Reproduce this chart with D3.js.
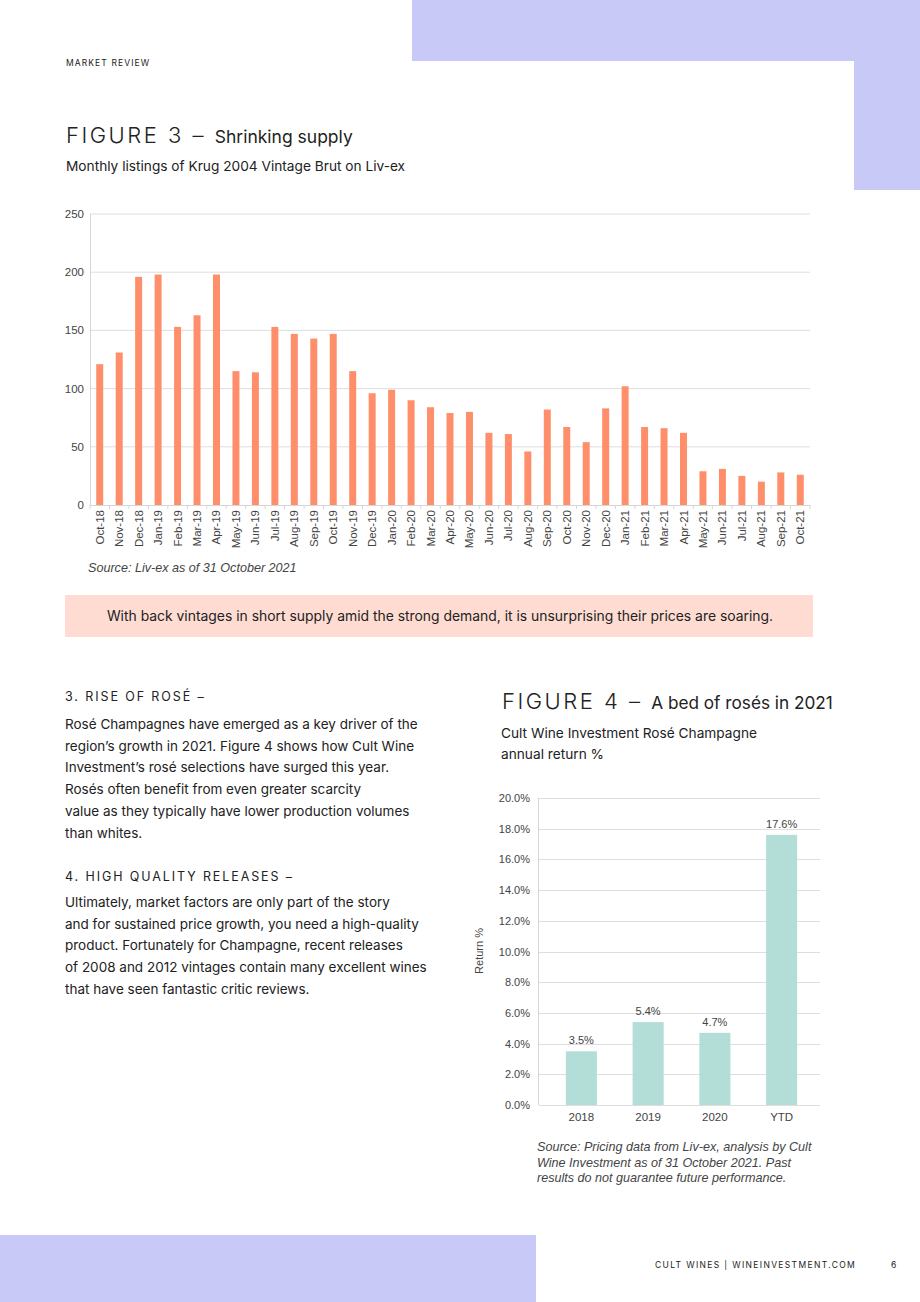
<!DOCTYPE html>
<html><head><meta charset="utf-8">
<script src="https://cdn.jsdelivr.net/npm/d3@7"></script>
<style>
html,body{margin:0;padding:0;background:#fff;}
svg{display:block;}
.body{font-family:Inter, "Noto Sans", sans-serif;fill:#222;}
.chart{font-family:"Liberation Sans", Arial, sans-serif;}
</style></head>
<body><svg id="page" width="920" height="1302"></svg>
<script>
// ---- Figure 3 data ----
const months = ["Oct-18","Nov-18","Dec-18","Jan-19","Feb-19","Mar-19","Apr-19","May-19","Jun-19","Jul-19","Aug-19","Sep-19","Oct-19","Nov-19","Dec-19","Jan-20","Feb-20","Mar-20","Apr-20","May-20","Jun-20","Jul-20","Aug-20","Sep-20","Oct-20","Nov-20","Dec-20","Jan-21","Feb-21","Mar-21","Apr-21","May-21","Jun-21","Jul-21","Aug-21","Sep-21","Oct-21"];
const listings = [121,131,196,198,153,163,198,115,114,153,147,143,147,115,96,99,90,84,79,80,62,61,46,82,67,54,83,102,67,66,62,29,31,25,20,28,26];
const listingTicks = [0,50,100,150,200,250];

// ---- Figure 4 data ----
const years = ["2018","2019","2020","YTD"];
const returns = [3.5,5.4,4.7,17.6];
const returnTicks = [0,2,4,6,8,10,12,14,16,18,20];

// ---- Text ----
const para3 = ["Rosé Champagnes have emerged as a key driver of the","region’s growth in 2021. Figure 4 shows how Cult Wine","Investment’s rosé selections have surged this year.","Rosés often benefit from even greater scarcity","value as they typically have lower production volumes","than whites."];
const para4 = ["Ultimately, market factors are only part of the story","and for sustained price growth, you need a high-quality","product. Fortunately for Champagne, recent releases","of 2008 and 2012 vintages contain many excellent wines","that have seen fantastic critic reviews."];
const source4 = ["Source: Pricing data from Liv-ex, analysis by Cult","Wine Investment as of 31 October 2021. Past","results do not guarantee future performance."];

const svg = d3.select("#page");
const lav = "#c9c9f8";
// decorative blocks
svg.append("rect").attr("x",412).attr("y",0).attr("width",508).attr("height",61).attr("fill",lav);
svg.append("rect").attr("x",854).attr("y",0).attr("width",66).attr("height",190).attr("fill",lav);
svg.append("rect").attr("x",0).attr("y",1235).attr("width",536).attr("height",67).attr("fill",lav);

svg.append("text").attr("class","body").attr("x",66).attr("y",66).attr("font-size",8.5).attr("letter-spacing",1.1).attr("fill","#333").text("MARKET REVIEW");

// Figure 3 title
const t3 = svg.append("text").attr("class","body").attr("x",66).attr("y",143).attr("fill","#222");
t3.append("tspan").attr("font-size",22).attr("font-weight",300).attr("letter-spacing",2.5).text("FIGURE 3 – ");
t3.append("tspan").attr("font-size",17.5).attr("font-weight",400).text("Shrinking supply");
svg.append("text").attr("class","body").attr("x",66).attr("y",171).attr("font-size",13.7).text("Monthly listings of Krug 2004 Vintage Brut on Liv-ex");

// Figure 3 chart
const x3 = d3.scaleBand().domain(months).range([90,810]);
const y3 = d3.scaleLinear().domain([0,250]).range([505,214]);
const g3 = svg.append("g").attr("class","chart");
g3.selectAll("line.grid").data(listingTicks.filter(d=>d>0)).join("line")
  .attr("x1",90).attr("x2",810).attr("y1",d=>y3(d)).attr("y2",d=>y3(d)).attr("stroke","#dedede").attr("stroke-width",1);
g3.append("line").attr("x1",90.5).attr("x2",90.5).attr("y1",214).attr("y2",505).attr("stroke","#d6d6d6");
g3.append("line").attr("x1",90).attr("x2",810).attr("y1",505.5).attr("y2",505.5).attr("stroke","#d6d6d6");
g3.selectAll("line.tk").data(months.concat(["end"])).join("line")
  .attr("x1",(d,i)=>90+x3.step()*i).attr("x2",(d,i)=>90+x3.step()*i).attr("y1",505).attr("y2",509).attr("stroke","#d6d6d6");
const bw3 = 7;
g3.selectAll("rect.bar").data(listings).join("rect")
  .attr("x",(d,i)=>x3(months[i])+x3.bandwidth()/2-bw3/2).attr("width",bw3)
  .attr("y",d=>y3(d)).attr("height",d=>y3(0)-y3(d)).attr("fill","#ff8f6b");
g3.selectAll("text.yt").data(listingTicks).join("text")
  .attr("x",84).attr("y",d=>y3(d)+4).attr("text-anchor","end").attr("font-size",11.5).attr("fill","#444").text(d=>d);
g3.selectAll("text.xt").data(months).join("text")
  .attr("transform",d=>`translate(${x3(d)+x3.bandwidth()/2+4},510) rotate(-90)`)
  .attr("text-anchor","end").attr("font-size",11.5).attr("fill","#444").text(d=>d);
svg.append("text").attr("class","chart").attr("x",88).attr("y",572).attr("font-size",12.6).attr("font-style","italic").attr("fill","#444").text("Source: Liv-ex as of 31 October 2021");

// callout
svg.append("rect").attr("x",65).attr("y",595).attr("width",748).attr("height",42).attr("fill","#ffdcd2");
svg.append("text").attr("class","body").attr("x",440).attr("y",621).attr("text-anchor","middle").attr("font-size",13.9).attr("fill","#222")
  .text("With back vintages in short supply amid the strong demand, it is unsurprising their prices are soaring.");

// left column
svg.append("text").attr("class","body").attr("x",65).attr("y",701).attr("font-size",12.5).attr("letter-spacing",1.9).text("3. RISE OF ROSÉ –");
svg.selectAll("text.p3").data(para3).join("text").attr("class","body").attr("x",65).attr("y",(d,i)=>729+i*21.7).attr("font-size",13.5).text(d=>d);
svg.append("text").attr("class","body").attr("x",65).attr("y",881).attr("font-size",12.5).attr("letter-spacing",1.9).text("4. HIGH QUALITY RELEASES –");
svg.selectAll("text.p4").data(para4).join("text").attr("class","body").attr("x",65).attr("y",(d,i)=>907+i*21.7).attr("font-size",13.5).text(d=>d);

// Figure 4 title
const t4 = svg.append("text").attr("class","body").attr("x",502).attr("y",709).attr("fill","#222");
t4.append("tspan").attr("font-size",22).attr("font-weight",300).attr("letter-spacing",2.5).text("FIGURE 4 – ");
t4.append("tspan").attr("font-size",17.2).text("A bed of rosés in 2021");
svg.append("text").attr("class","body").attr("x",501).attr("y",738).attr("font-size",13.7).text("Cult Wine Investment Rosé Champagne");
svg.append("text").attr("class","body").attr("x",501).attr("y",759).attr("font-size",13.7).text("annual return %");

// Figure 4 chart
const x4 = d3.scaleBand().domain(years).range([548,815]).paddingInner(0.535).paddingOuter(0.2675);
const y4 = d3.scaleLinear().domain([0,20]).range([1105,798]);
const g4 = svg.append("g").attr("class","chart");
g4.selectAll("line.grid").data(returnTicks).join("line")
  .attr("x1",539).attr("x2",820).attr("y1",d=>Math.round(y4(d))+0.5).attr("y2",d=>Math.round(y4(d))+0.5).attr("stroke","#dedede");
g4.append("line").attr("x1",538.5).attr("x2",538.5).attr("y1",798).attr("y2",1105).attr("stroke","#d6d6d6");
g4.selectAll("rect.bar").data(returns).join("rect")
  .attr("x",(d,i)=>x4(years[i])).attr("width",x4.bandwidth())
  .attr("y",d=>y4(d)).attr("height",d=>y4(0)-y4(d)).attr("fill","#b2ded7");
g4.selectAll("text.lbl").data(returns).join("text")
  .attr("x",(d,i)=>x4(years[i])+x4.bandwidth()/2).attr("y",d=>y4(d)-7).attr("text-anchor","middle").attr("font-size",11).attr("fill","#444").text(d=>d.toFixed(1)+"%");
g4.selectAll("text.yt").data(returnTicks).join("text")
  .attr("x",530).attr("y",d=>y4(d)+4).attr("text-anchor","end").attr("font-size",11).attr("fill","#444").text(d=>d.toFixed(1)+"%");
g4.selectAll("text.xt").data(years).join("text")
  .attr("x",d=>x4(d)+x4.bandwidth()/2).attr("y",1121).attr("text-anchor","middle").attr("font-size",11.5).attr("fill","#444").text(d=>d);
g4.append("text").attr("transform","translate(483,951) rotate(-90)").attr("text-anchor","middle").attr("font-size",11).attr("fill","#444").text("Return %");
svg.selectAll("text.s4").data(source4).join("text").attr("class","chart").attr("x",537).attr("y",(d,i)=>1151+i*15.5).attr("font-size",12.6).attr("font-style","italic").attr("fill","#444").text(d=>d);

// footer
svg.append("text").attr("class","body").attr("x",655).attr("y",1268).attr("font-size",8.5).attr("letter-spacing",1.35).attr("fill","#333").text("CULT WINES  |  WINEINVESTMENT.COM");
svg.append("text").attr("class","body").attr("x",891).attr("y",1268).attr("font-size",8.5).attr("fill","#333").text("6");
</script></body></html>
